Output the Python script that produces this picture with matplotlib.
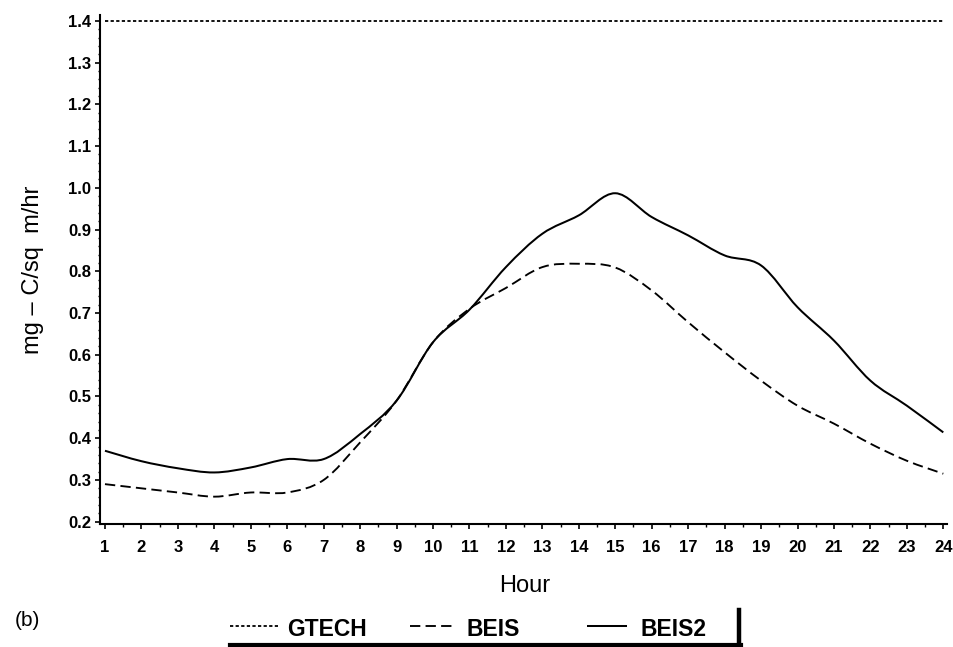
import numpy as np
import matplotlib
matplotlib.use("Agg")
import matplotlib.pyplot as plt
from matplotlib.path import Path
from matplotlib.patches import PathPatch
from matplotlib.lines import Line2D
from matplotlib.ticker import MultipleLocator

plt.rcParams['font.family'] = ['Liberation Sans', 'DejaVu Sans']

# hourly values
hours = list(range(1, 25))
gtech = [1.4] * 24
beis = [0.29, 0.28, 0.27, 0.26, 0.27, 0.27, 0.30, 0.39, 0.49, 0.63, 0.71, 0.76,
        0.81, 0.818, 0.809, 0.754, 0.678, 0.606, 0.538, 0.478, 0.435, 0.387, 0.346, 0.315]
beis2 = [0.37, 0.345, 0.328, 0.318, 0.33, 0.35, 0.35, 0.41, 0.49, 0.63, 0.708, 0.81,
         0.89, 0.934, 0.987, 0.93, 0.886, 0.838, 0.814, 0.714, 0.634, 0.538, 0.478, 0.414]
y_ticks = [0.2, 0.3, 0.4, 0.5, 0.6, 0.7, 0.8, 0.9, 1.0, 1.1, 1.2, 1.3, 1.4]
names = ['GTECH', 'BEIS', 'BEIS2']


def smooth_path(x, y):
    # catmull-rom spline turned into cubic bezier segments (drawn by matplotlib)
    p = np.column_stack([x, y]).astype(float)
    ext = np.vstack([p[0], p, p[-1]])
    verts = [p[0]]
    codes = [Path.MOVETO]
    for i in range(len(p) - 1):
        p0, p1, p2, p3 = ext[i], ext[i + 1], ext[i + 2], ext[i + 3]
        verts += [p1 + (p2 - p0) / 6, p2 - (p3 - p1) / 6, p2]
        codes += [Path.CURVE4] * 3
    return Path(verts, codes)


fig = plt.figure(figsize=(9.54, 6.47), dpi=100)
ax = fig.add_axes([0.1048, 0.1901, 0.8878, 0.7867])

styles = [dict(ls=(0, (1.8, 1.3)), lw=1.3),
          dict(ls=(0, (5.5, 2.8)), lw=1.35),
          dict(ls='-', lw=1.45)]

ax.plot(hours, gtech, color='black', linestyle=styles[0]['ls'], lw=styles[0]['lw'])
for vals, st in zip([beis, beis2], styles[1:]):
    ax.add_patch(PathPatch(smooth_path(hours, vals), fill=False, edgecolor='black',
                           linestyle=st['ls'], lw=st['lw'], capstyle='butt'))

ax.set_xlim(0.863, 24.1)
ax.set_ylim(0.1945, 1.414)
ax.set_xticks(hours)
ax.set_yticks(y_ticks)
ax.set_yticklabels([f"{v:.1f}" for v in y_ticks])
ax.xaxis.set_minor_locator(MultipleLocator(0.5))
ax.yaxis.set_minor_locator(MultipleLocator(0.02))

for s in ['top', 'right']:
    ax.spines[s].set_visible(False)
for s in ['left', 'bottom']:
    ax.spines[s].set_linewidth(1.5)

ax.tick_params(axis='both', which='major', direction='out', length=3.5, width=1.2,
               labelsize=12)
ax.tick_params(axis='both', which='minor', direction='out', length=1.8, width=1.0)
ax.tick_params(axis='x', which='major', pad=8)
ax.tick_params(axis='y', which='major', pad=3)
for lab in ax.get_xticklabels() + ax.get_yticklabels():
    lab.set_fontweight('bold')

ax.set_xlabel('Hour', fontsize=17)
ax.xaxis.set_label_coords(0.502, -0.1)
ax.set_ylabel('mg – C/sq  m/hr', fontsize=17)
ax.yaxis.set_label_coords(-0.066, 0.5)

fig.text(27 / 954, (647 - 621) / 647, '(b)', fontsize=15, ha='center', va='center')

# legend drawn by hand to copy the boxed look
W, H = 954, 647
handle_x = [(230, 278), (410, 455), (588, 626)]
text_x = [287, 467, 640]
for name, st, hx, tx in zip(names, styles, handle_x, text_x):
    fig.add_artist(Line2D([hx[0] / W, hx[1] / W], [(H - 626) / H] * 2,
                          color='black', linestyle=st['ls'], lw=st['lw']))
    fig.text(tx / W, (H - 636.5) / H, name, fontsize=16.5, fontweight='bold',
             ha='left', va='baseline')
fig.add_artist(Line2D([230 / W, 741 / W], [(H - 645) / H] * 2, color='black', lw=3))
fig.add_artist(Line2D([739 / W, 739 / W], [(H - 610) / H, (H - 646) / H],
                      color='black', lw=3.2))

fig.savefig('out.png', dpi=100)
